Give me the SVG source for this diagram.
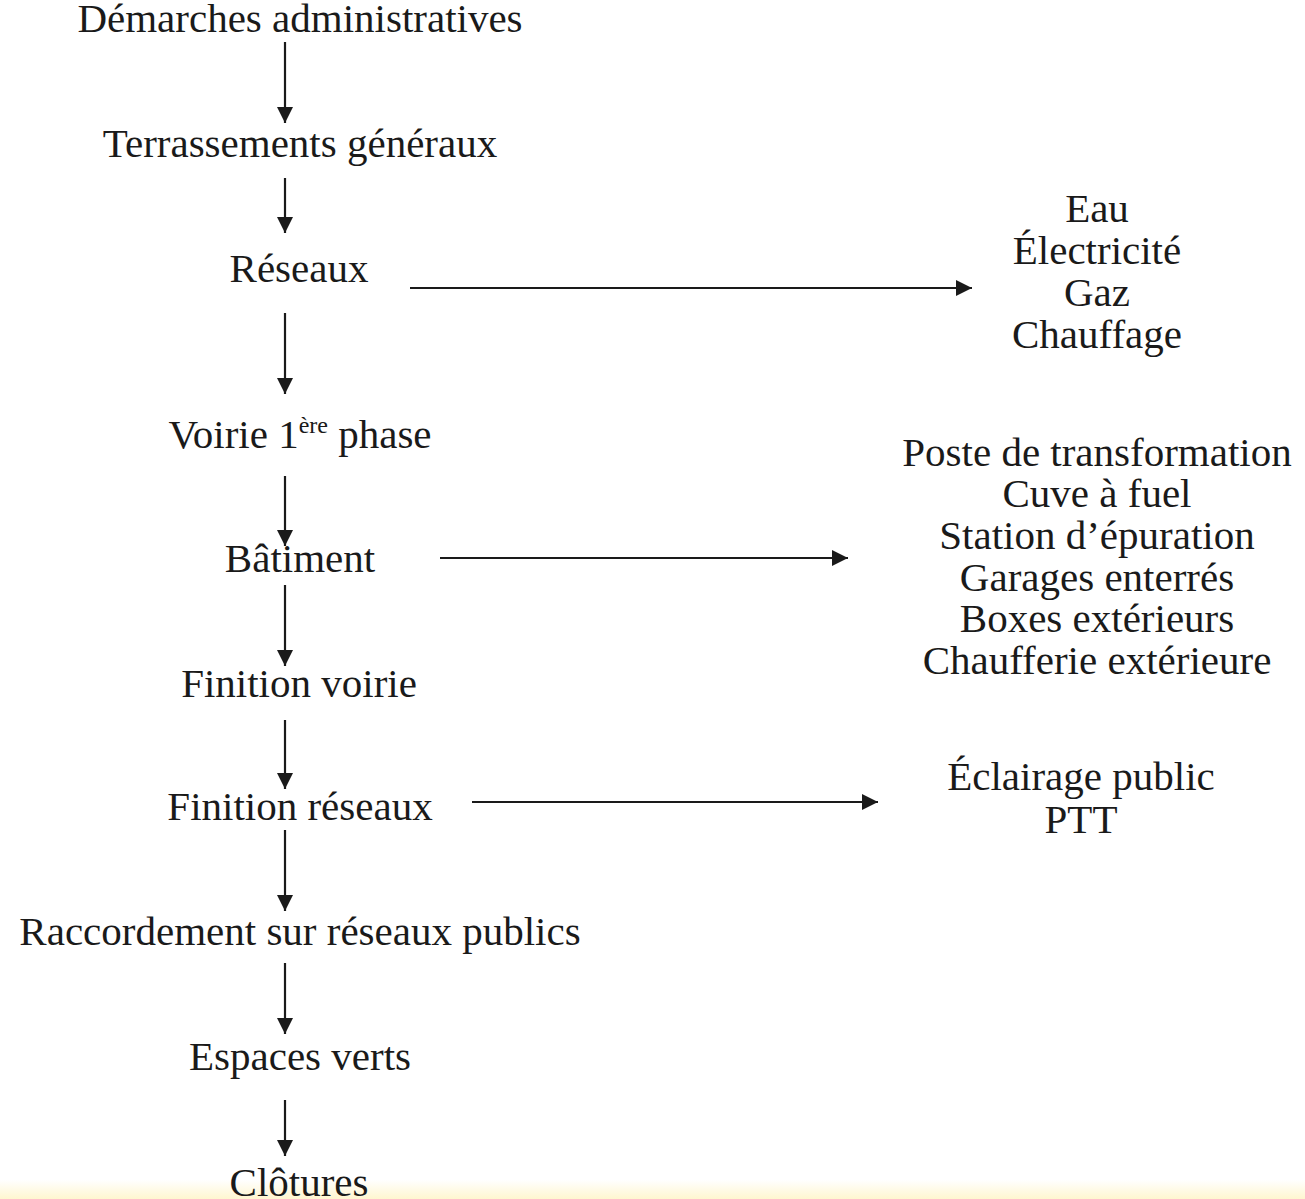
<svg xmlns="http://www.w3.org/2000/svg" width="1305" height="1199" viewBox="0 0 1305 1199">
<defs>
<marker id="ah" viewBox="0 0 10 10" refX="10" refY="5" markerWidth="20" markerHeight="16" markerUnits="userSpaceOnUse" orient="auto">
<path d="M0,0 L10,5 L0,10 z" fill="#1a1a1a"/>
</marker>
<linearGradient id="band" x1="0" y1="0" x2="0" y2="1">
<stop offset="0" stop-color="#ffffff"/>
<stop offset="1" stop-color="#fff6cf"/>
</linearGradient>
<style>
text{font-family:"Liberation Serif","Times New Roman",serif;font-size:41px;fill:#1a1a1a;text-anchor:middle}
.c{stroke:#1a1a1a;stroke-width:2.2;fill:none;marker-end:url(#ah)}
.sup{font-size:24px}
</style>
</defs>
<rect width="1305" height="1199" fill="#ffffff"/>
<rect x="0" y="1180" width="1305" height="19" fill="url(#band)"/>
<g id="connectors">
<line class="c" x1="285" y1="42" x2="285" y2="123"/>
<line class="c" x1="285" y1="178" x2="285" y2="233"/>
<line class="c" x1="285" y1="313" x2="285" y2="394"/>
<line class="c" x1="285" y1="476" x2="285" y2="546"/>
<line class="c" x1="285" y1="585" x2="285" y2="666"/>
<line class="c" x1="285" y1="720" x2="285" y2="789"/>
<line class="c" x1="285" y1="830" x2="285" y2="911"/>
<line class="c" x1="285" y1="963" x2="285" y2="1034"/>
<line class="c" x1="285" y1="1100" x2="285" y2="1156"/>
<line class="c" x1="410" y1="288" x2="972" y2="288"/>
<line class="c" x1="440" y1="558" x2="848" y2="558"/>
<line class="c" x1="472" y1="802" x2="878" y2="802"/>
</g>
<g id="n-demarches"><text x="300" y="32">Démarches administratives</text></g>
<g id="n-terrassements"><text x="300" y="157">Terrassements généraux</text></g>
<g id="n-reseaux"><text x="299" y="282">Réseaux</text></g>
<g id="n-voirie1"><text x="300" y="448">Voirie 1<tspan class="sup" dy="-15">ère</tspan><tspan dy="15"> phase</tspan></text></g>
<g id="n-batiment"><text x="300" y="572">Bâtiment</text></g>
<g id="n-finition-voirie"><text x="299" y="697">Finition voirie</text></g>
<g id="n-finition-reseaux"><text x="300" y="820">Finition réseaux</text></g>
<g id="n-raccordement"><text x="300" y="945">Raccordement sur réseaux publics</text></g>
<g id="n-espaces-verts"><text x="300" y="1070">Espaces verts</text></g>
<g id="n-clotures"><text x="299" y="1196">Clôtures</text></g>
<g id="n-reseaux-list">
<text x="1097" y="222">Eau</text>
<text x="1097" y="264">Électricité</text>
<text x="1097" y="306">Gaz</text>
<text x="1097" y="348">Chauffage</text>
</g>
<g id="n-batiment-list">
<text x="1097" y="466">Poste de transformation</text>
<text x="1097" y="507">Cuve à fuel</text>
<text x="1097" y="549">Station d’épuration</text>
<text x="1097" y="591">Garages enterrés</text>
<text x="1097" y="632">Boxes extérieurs</text>
<text x="1097" y="674">Chaufferie extérieure</text>
</g>
<g id="n-finition-list">
<text x="1081" y="790">Éclairage public</text>
<text x="1081" y="833">PTT</text>
</g>
</svg>
